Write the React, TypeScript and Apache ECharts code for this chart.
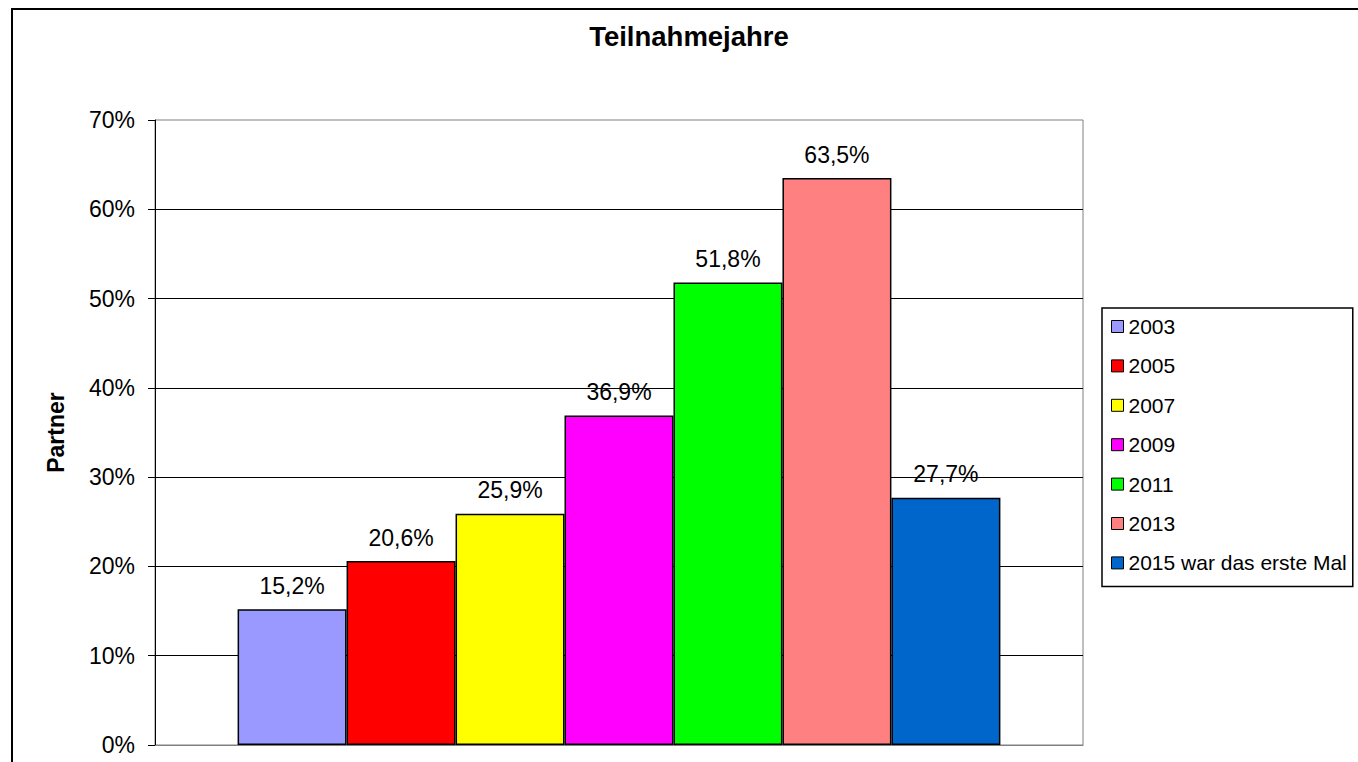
import React, { useEffect, useRef } from "react";
import * as echarts from "echarts";

const seriesNames = ["2003", "2005", "2007", "2009", "2011", "2013", "2015 war das erste Mal"];
const seriesValues = [15.2, 20.6, 25.9, 36.9, 51.8, 63.5, 27.7];
const seriesColors = ["#9999FF", "#FF0000", "#FFFF00", "#FF00FF", "#00FF00", "#FF8080", "#0066CC"];
const yTicks = { min: 0, max: 70, interval: 10 };
const titleText = "Teilnahmejahre";
const yAxisName = "Partner";

const FONT = 'Arial, "Liberation Sans", sans-serif';

export default function App() {
  const ref = useRef<HTMLDivElement>(null);
  useEffect(() => {
    if (!ref.current) return;
    const chart = echarts.init(ref.current, undefined, { renderer: "svg" });
    const option: any = {
      animation: false,
      backgroundColor: "#ffffff",
      textStyle: { fontFamily: FONT },
      graphic: [
        {
          type: "rect",
          shape: { x: 12, y: 9, width: 1400, height: 800 },
          style: { fill: "none", stroke: "#000", lineWidth: 2 },
          silent: true,
          z: 100,
        },
        {
          type: "text",
          x: 689,
          y: 36,
          style: {
            text: titleText,
            fontFamily: FONT,
            fontWeight: "bold",
            fontSize: 27.5,
            fill: "#000",
            textAlign: "center",
            textVerticalAlign: "middle",
          },
        },
      ],
      legend: {
        orient: "vertical",
        left: 1102,
        top: 308,
        padding: [8, 6, 13, 9],
        borderColor: "#000",
        borderWidth: 1.5,
        itemWidth: 12,
        itemHeight: 12,
        itemGap: 18.4,
        icon: "rect",
        itemStyle: { borderColor: "#000", borderWidth: 1 },
        textStyle: { fontFamily: FONT, fontSize: 21, color: "#000", lineHeight: 20 },
        data: seriesNames,
      },
      grid: {
        left: 155,
        right: 275,
        top: 120,
        bottom: 17,
        show: true,
        borderColor: "#808080",
        borderWidth: 1,
        containLabel: false,
      },
      xAxis: {
        type: "category",
        data: [""],
        axisLine: { show: true, lineStyle: { color: "#808080", width: 1 } },
        axisTick: { show: false },
        axisLabel: { show: false },
      },
      yAxis: {
        type: "value",
        min: yTicks.min,
        max: yTicks.max,
        interval: yTicks.interval,
        name: yAxisName,
        nameLocation: "middle",
        nameRotate: 90,
        nameGap: 88,
        nameTextStyle: { fontFamily: FONT, fontWeight: "bold", fontSize: 23, color: "#000" },
        axisLine: { show: true, lineStyle: { color: "#000", width: 1 } },
        axisTick: { show: true, inside: false, length: 7, lineStyle: { color: "#000" } },
        axisLabel: {
          fontFamily: FONT,
          fontSize: 23,
          color: "#000",
          margin: 20,
          formatter: (v: number) => `${v}%`,
        },
        splitLine: {
          show: true,
          showMinLine: false,
          showMaxLine: false,
          lineStyle: { color: "#000", width: 1 },
        },
      },
      series: seriesNames.map((name, i) => ({
        name,
        type: "bar",
        data: [seriesValues[i]],
        barGap: "0%",
        barCategoryGap: "17.8%",
        itemStyle: { color: seriesColors[i], borderColor: "#000", borderWidth: 1.5 },
        label: {
          show: true,
          position: "top",
          distance: 12,
          fontFamily: FONT,
          fontSize: 23,
          color: "#000",
          formatter: (p: any) => `${String(p.value.toFixed(1)).replace(".", ",")}%`,
        },
      })),
    };
    chart.setOption(option);
    return () => chart.dispose();
  }, []);
  return (
    <div
      ref={ref}
      style={{ position: "fixed", left: 0, top: 0, width: 1358, height: 762 }}
    />
  );
}
